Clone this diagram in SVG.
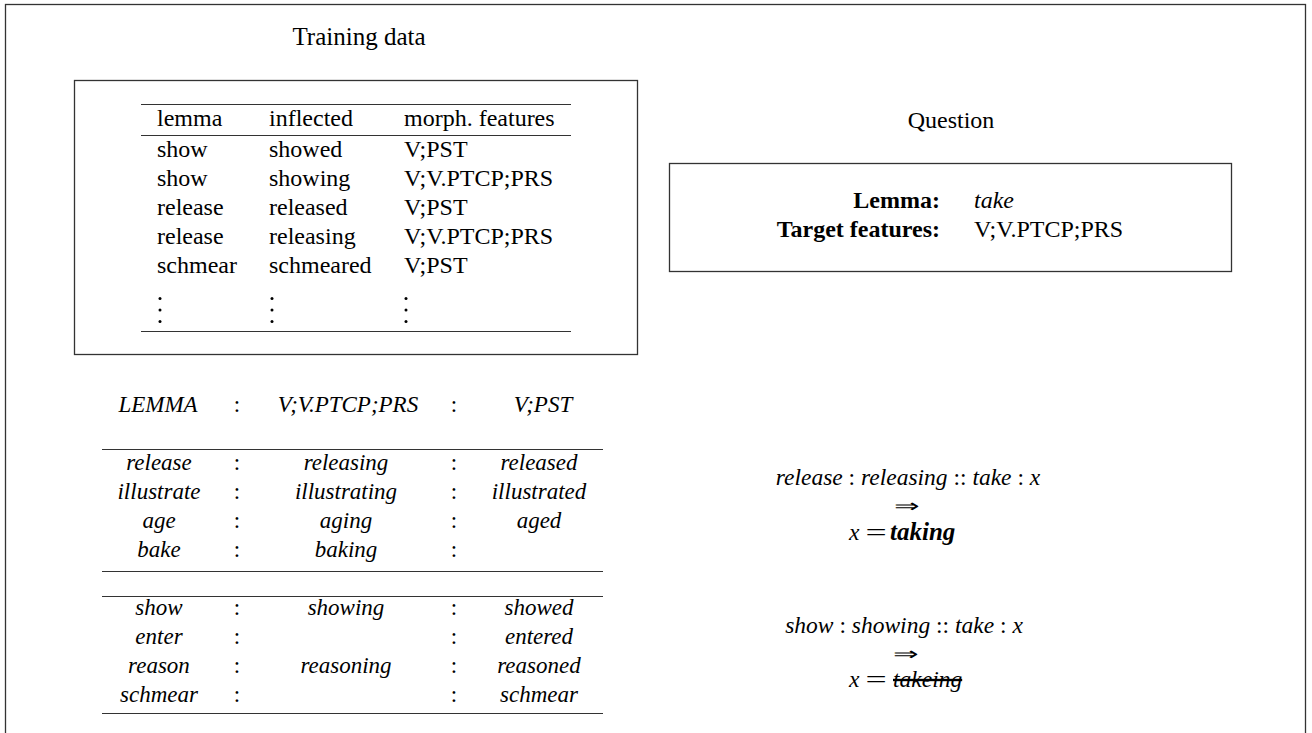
<svg xmlns="http://www.w3.org/2000/svg" width="1312" height="733" viewBox="0 0 1312 733">
<style>
text{font-family:"Liberation Serif","Times New Roman",serif;font-size:23px;fill:#000}
.u{font-size:24px}
.i{font-style:italic}
.b{font-weight:bold}
.m{text-anchor:middle}
.e{text-anchor:end}
.f{font-size:23.5px}
.arr{font-size:18px;text-anchor:middle}
.eq{font-size:23.5px;text-anchor:middle}
.frame{fill:none;stroke:#333;stroke-width:1.3}
.rule{stroke:#333;stroke-width:1.2}
</style>
<rect width="1312" height="733" fill="#fff"/>
<rect id="outer" class="frame" x="5.5" y="4.5" width="1300" height="740"/>

<g id="training">
<text class="m" x="359" y="45" style="font-size:25px">Training data</text>
<rect class="frame" x="74.5" y="80.5" width="563" height="274"/>
<line class="rule" x1="141" y1="104.5" x2="571" y2="104.5"/>
<line class="rule" x1="141" y1="135.5" x2="571" y2="135.5"/>
<line class="rule" x1="141" y1="331.5" x2="571" y2="331.5"/>
<text class="u" x="157" y="126">lemma</text><text class="u" x="269" y="126">inflected</text><text class="u" x="404" y="126">morph. features</text>
<text class="u" x="157" y="157">show</text><text class="u" x="269" y="157">showed</text><text class="u" x="404" y="157">V;PST</text>
<text class="u" x="157" y="186">show</text><text class="u" x="269" y="186">showing</text><text class="u" x="404" y="186">V;V.PTCP;PRS</text>
<text class="u" x="157" y="215">release</text><text class="u" x="269" y="215">released</text><text class="u" x="404" y="215">V;PST</text>
<text class="u" x="157" y="244">release</text><text class="u" x="269" y="244">releasing</text><text class="u" x="404" y="244">V;V.PTCP;PRS</text>
<text class="u" x="157" y="273">schmear</text><text class="u" x="269" y="273">schmeared</text><text class="u" x="404" y="273">V;PST</text>
<g fill="#000">
<circle cx="160" cy="298.5" r="1.5"/><circle cx="160" cy="310" r="1.5"/><circle cx="160" cy="321.5" r="1.5"/>
<circle cx="272" cy="298.5" r="1.5"/><circle cx="272" cy="310" r="1.5"/><circle cx="272" cy="321.5" r="1.5"/>
<circle cx="406" cy="298.5" r="1.5"/><circle cx="406" cy="310" r="1.5"/><circle cx="406" cy="321.5" r="1.5"/>
</g>
</g>

<g id="question">
<text class="u m" x="951" y="128">Question</text>
<rect class="frame" x="669.5" y="163.5" width="562" height="108"/>
<text class="u b e" x="940" y="208">Lemma:</text><text class="u i" x="974" y="208">take</text>
<text class="u b e" x="940" y="237">Target features:</text><text class="u" x="974" y="237">V;V.PTCP;PRS</text>
</g>

<g id="analogy-table">
<text class="i m" x="158" y="412">LEMMA</text><text class="m" x="237" y="412">:</text><text class="i m" x="348" y="412">V;V.PTCP;PRS</text><text class="m" x="454" y="412">:</text><text class="i m" x="543" y="412">V;PST</text>
<line class="rule" x1="102" y1="449.5" x2="603" y2="449.5"/>
<text class="i m" x="159" y="470">release</text><text class="m" x="237" y="470">:</text><text class="i m" x="346" y="470">releasing</text><text class="m" x="454" y="470">:</text><text class="i m" x="539" y="470">released</text>
<text class="i m" x="159" y="499">illustrate</text><text class="m" x="237" y="499">:</text><text class="i m" x="346" y="499">illustrating</text><text class="m" x="454" y="499">:</text><text class="i m" x="539" y="499">illustrated</text>
<text class="i m" x="159" y="528">age</text><text class="m" x="237" y="528">:</text><text class="i m" x="346" y="528">aging</text><text class="m" x="454" y="528">:</text><text class="i m" x="539" y="528">aged</text>
<text class="i m" x="159" y="557">bake</text><text class="m" x="237" y="557">:</text><text class="i m" x="346" y="557">baking</text><text class="m" x="454" y="557">:</text>
<line class="rule" x1="102" y1="571.5" x2="603" y2="571.5"/>
<line class="rule" x1="102" y1="596.5" x2="603" y2="596.5"/>
<text class="i m" x="159" y="615">show</text><text class="m" x="237" y="615">:</text><text class="i m" x="346" y="615">showing</text><text class="m" x="454" y="615">:</text><text class="i m" x="539" y="615">showed</text>
<text class="i m" x="159" y="644">enter</text><text class="m" x="237" y="644">:</text><text class="m" x="454" y="644">:</text><text class="i m" x="539" y="644">entered</text>
<text class="i m" x="159" y="673">reason</text><text class="m" x="237" y="673">:</text><text class="i m" x="346" y="673">reasoning</text><text class="m" x="454" y="673">:</text><text class="i m" x="539" y="673">reasoned</text>
<text class="i m" x="159" y="702">schmear</text><text class="m" x="237" y="702">:</text><text class="m" x="454" y="702">:</text><text class="i m" x="539" y="702">schmear</text>
<line class="rule" x1="102" y1="713.5" x2="603" y2="713.5"/>
</g>

<g id="analogy-good">
<text class="f m" x="908" y="485"><tspan class="i">release</tspan> : <tspan class="i">releasing</tspan> :: <tspan class="i">take</tspan> : <tspan class="i">x</tspan></text>
<text class="arr" transform="translate(907,512) scale(1.7,1)">⇒</text>
<text class="f i" x="849" y="540">x</text>
<text class="eq" transform="translate(876,540) scale(1.6,1)">=</text>
<text class="i b" x="890" y="540" style="font-size:25px">taking</text>
</g>

<g id="analogy-bad">
<text class="f m" x="904" y="633"><tspan class="i">show</tspan> : <tspan class="i">showing</tspan> :: <tspan class="i">take</tspan> : <tspan class="i">x</tspan></text>
<text class="arr" transform="translate(906,660) scale(1.7,1)">⇒</text>
<text class="f i" x="849" y="687">x</text>
<text class="eq" transform="translate(876,687) scale(1.6,1)">=</text>
<text class="f i" x="893" y="687" text-decoration="line-through">takeing</text>
</g>
</svg>
